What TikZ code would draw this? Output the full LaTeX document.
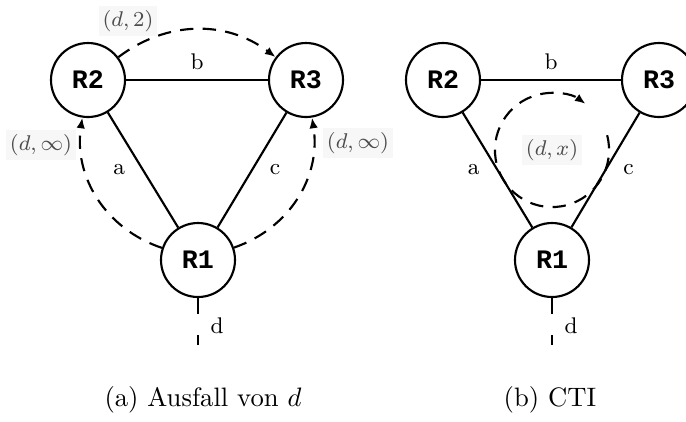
\documentclass[tikz,border=0pt]{standalone}
\usepackage{fontspec}
\newfontfamily\routerfont{Liberation Mono}
\usetikzlibrary{arrows.meta}

\begin{document}
\begin{tikzpicture}[>={Latex[length=4pt,width=3.2pt]},x=0.375pt,y=0.375pt,
    router/.style={draw,circle,line width=0.8pt,minimum size=27.75pt,inner sep=0pt,
      font=\routerfont\bfseries\fontsize{10}{12}\selectfont},
    link/.style={line width=0.8pt},
    route/.style={line width=0.8pt,dash pattern=on 5pt off 3.5pt},
    lbl/.style={font=\fontsize{8.5}{10}\selectfont},
    cost/.style={font=\fontsize{8.5}{10}\selectfont,text=black!70,fill=black!3,inner sep=1.5pt}]
  \useasboundingbox (0,0) rectangle (686,421);
  % (a) Ausfall von d
  \node[router] (a2) at (88,341) {R2};
  \node[router] (a3) at (306,341) {R3};
  \node[router] (a1) at (198,161) {R1};
  \coordinate (ad) at (198,76);
  \draw[link] (a2) -- node[lbl,above] (ab) {b} (a3);
  \draw[link] (a2) -- node[lbl,left=3pt] (aa) {a} (a1);
  \draw[link] (a3) -- node[lbl,right=3pt] (ac) {c} (a1);
  \draw[link,dash pattern=on 6pt off 8pt] (a1) -- node[lbl,right=1pt,pos=0.58] (adl) {d} (ad);
  \draw[route,->] (a2) to[bend left=37] (a3);
  \draw[route,->] (a1) to[bend left=40] (a2);
  \draw[route,->] (a1) to[bend right=40] (a3);
  \node[cost] (k23) at (128,400) {$(d,2)$};
  \node[cost] (k12) at (41,276) {$(d,\infty)$};
  \node[cost] (k13) at (358,278) {$(d,\infty)$};
  \node (capa) at (203,21) {(a) Ausfall von $d$};
  % (b) CTI
  \node[router] (b2) at (443,341) {R2};
  \node[router] (b3) at (659,341) {R3};
  \node[router] (b1) at (552,161) {R1};
  \coordinate (bd) at (552,76);
  \draw[link] (b2) -- node[lbl,above] (bb) {b} (b3);
  \draw[link] (b2) -- node[lbl,left=3pt] (ba) {a} (b1);
  \draw[link] (b3) -- node[lbl,right=3pt] (bc) {c} (b1);
  \draw[link,dash pattern=on 6pt off 8pt] (b1) -- node[lbl,right=1pt,pos=0.58] (bdl) {d} (bd);
  \node[cost] (kx) at (552,271) {$(d,x)$};
  \draw[route,->] ([shift={(15:21.4pt)}]kx.center)
    arc[start angle=15,end angle=-306,radius=21.4pt];
  \node (capb) at (550,21) {(b) CTI};
\end{tikzpicture}
\end{document}
